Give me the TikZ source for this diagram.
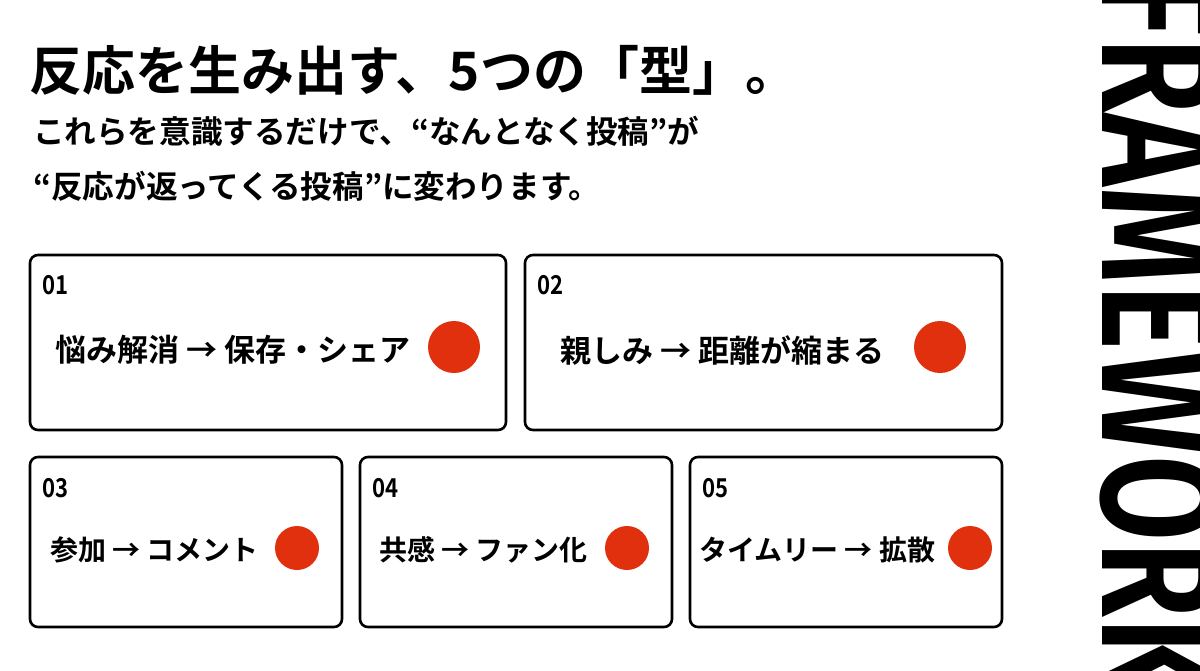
\documentclass[tikz,border=0pt]{standalone}
\usepackage{fontspec}
\setmainfont{Noto Sans CJK JP}[UprightFont=* Bold]
\newfontfamily\latinbold{Fira Sans}[UprightFont=* SemiBold]
\usetikzlibrary{positioning}
\definecolor{dotred}{HTML}{E0300E}

\begin{document}
\begin{tikzpicture}[
        x=0.5pt, y=-0.5pt,
        card/.style={draw, line width=1.3pt, rounded corners=4pt},
        num/.style={anchor=west, font=\fontsize{13}{13}\selectfont, xscale=0.85},
        label/.style={anchor=west, font=\fontsize{15.5}{15.5}\selectfont},
        small/.style={label, font=\fontsize{14}{14}\selectfont},
        dot/.style={fill=dotred, draw=none}
    ]
        \useasboundingbox (0,0) rectangle (1200,670);
        \clip (0,0) rectangle (1200,670);

        % Heading
        \node[anchor=west, font=\fontsize{26.5}{26.5}\selectfont] (title) at (22,70) {反応を生み出す、5つの「型」。};
        \node[anchor=west, font=\fontsize{15.8}{15.8}\selectfont] (sub1) at (26,131) {これらを意識するだけで、“なんとなく投稿”が};
        \node[anchor=west, font=\fontsize{15.8}{15.8}\selectfont] (sub2) at (26,186) {“反応が返ってくる投稿”に変わります。};

        % Side word
        \node[anchor=base west, rotate=-90, font=\latinbold\fontsize{82}{82}\selectfont, xscale=0.76, inner sep=0pt] (side) at (1102,-24) {FRAMEWORK};

        % Cards
        \draw[card] (30,255) rectangle (506,430);
        \draw[card] (525,255) rectangle (1002,430);
        \draw[card] (30,457) rectangle (342,627);
        \draw[card] (360,457) rectangle (672,627);
        \draw[card] (690,457) rectangle (1002,627);

        % Numbers
        \node[num] (n1) at (36,285) {01};
        \node[num] (n2) at (531,285) {02};
        \node[num] (n3) at (36,488) {03};
        \node[num] (n4) at (366,488) {04};
        \node[num] (n5) at (696,488) {05};

        % Labels
        \node[label] (t1) at (48,350) {悩み解消 → 保存・シェア};
        \node[label] (t2) at (553,350) {親しみ → 距離が縮まる};
        \node[small] (t3) at (43,550) {参加 → コメント};
        \node[small] (t4) at (372,550) {共感 → ファン化};
        \node[small] (t5) at (692,550) {タイムリー → 拡散};

        % Dots
        \fill[dot] (454,347) circle (26);
        \fill[dot] (940,347) circle (26);
        \fill[dot] (297,548) circle (22);
        \fill[dot] (627,548) circle (22);
        \fill[dot] (970,548) circle (22);
    \end{tikzpicture}
\end{document}
